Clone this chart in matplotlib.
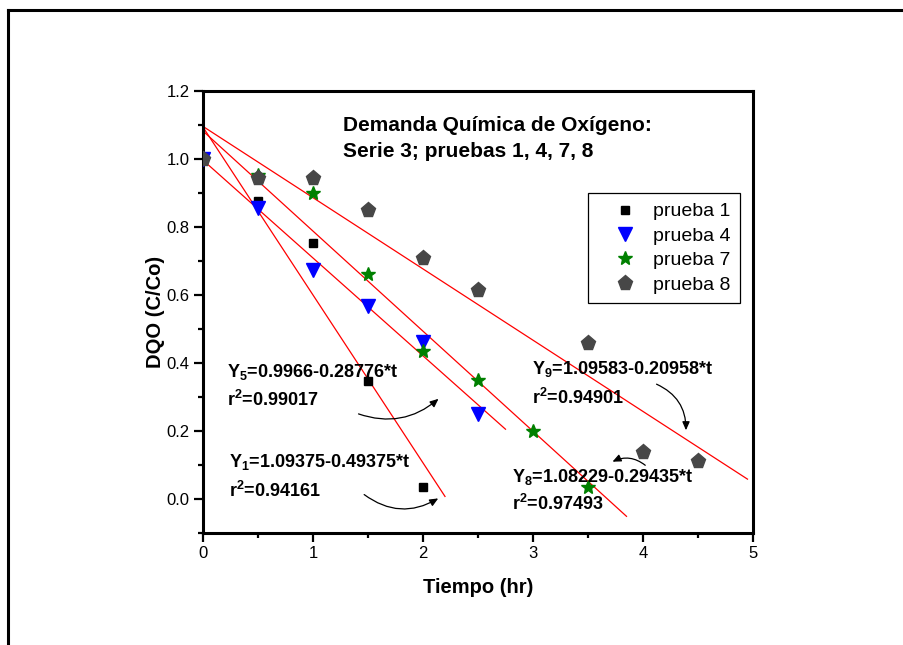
import matplotlib
matplotlib.use("Agg")
import matplotlib.pyplot as plt
from matplotlib.patches import FancyArrowPatch
from matplotlib.lines import Line2D
import numpy as np

plt.rcParams['font.family'] = ['Liberation Sans', 'DejaVu Sans']
plt.rcParams['mathtext.fontset'] = 'custom'
plt.rcParams['mathtext.rm'] = 'Liberation Sans:bold'
plt.rcParams['mathtext.bf'] = 'Liberation Sans:bold'
plt.rcParams['mathtext.it'] = 'Liberation Sans:bold'
plt.rcParams['mathtext.default'] = 'bf'

# ---- data ----
t1 = [0.0, 0.5, 1.0, 1.5, 2.0]
y1 = [1.0, 0.877, 0.753, 0.348, 0.035]
t4 = [0.0, 0.5, 1.0, 1.5, 2.0, 2.5]
y4 = [1.0, 0.855, 0.675, 0.568, 0.462, 0.25]
t7 = [0.0, 0.5, 1.0, 1.5, 2.0, 2.5, 3.0, 3.5]
y7 = [1.0, 0.952, 0.90, 0.662, 0.435, 0.35, 0.20, 0.035]
t8 = [0.0, 0.5, 1.0, 1.5, 2.0, 2.5, 3.5, 4.0, 4.5]
y8 = [1.0, 0.945, 0.945, 0.85, 0.71, 0.615, 0.459, 0.138, 0.112]

# linear fits (intercept, slope, end time)
fit_a = [1.09375, 0.9966, 1.08229, 1.09583]
fit_b = [-0.49375, -0.28776, -0.29435, -0.20958]
fit_end = [2.2, 2.75, 3.85, 4.95]

series_labels = ['prueba 1', 'prueba 4', 'prueba 7', 'prueba 8']
xticks = [0, 1, 2, 3, 4, 5]
yticks = [0.0, 0.2, 0.4, 0.6, 0.8, 1.0, 1.2]

fig = plt.figure(figsize=(9.04, 6.45), dpi=100)
ax = fig.add_axes([203/904, 1-533/645, 550/904, 442/645])

for a, b, te in zip(fit_a, fit_b, fit_end):
    tt = np.array([0.0, te])
    ax.plot(tt, a + b*tt, color='red', lw=0.9, zorder=2)

ax.plot(t1, y1, 's', color='black', ms=6, ls='none', label=series_labels[0], zorder=3)
ax.plot(t4, y4, 'v', color='#0000ff', ms=9.5, ls='none', label=series_labels[1], zorder=3)
ax.plot(t7, y7, '*', color='#008000', ms=10, ls='none', label=series_labels[2], zorder=3)
ax.plot(t8, y8, 'p', color='#474747', ms=11, ls='none', label=series_labels[3], zorder=3)

ax.set_xlim(0, 5)
ax.set_ylim(-0.1, 1.2)
ax.set_xticks(xticks)
ax.set_xticklabels([str(v) for v in xticks])
ax.set_yticks(yticks)
ax.set_yticklabels([f'{v:.1f}' for v in yticks])
ax.set_xticks(np.arange(0.5, 5, 1.0), minor=True)
ax.set_yticks(np.arange(-0.1, 1.2, 0.2), minor=True)

for s in ax.spines.values():
    s.set_linewidth(2.2)
ax.tick_params(axis='both', which='major', direction='out', length=6.5, width=1.6,
               labelsize=12, pad=3, top=False, right=False)
ax.tick_params(axis='both', which='minor', direction='out', length=3.5, width=1.6,
               top=False, right=False)

ax.set_xlabel('Tiempo (hr)', fontsize=14.5, fontweight='bold', labelpad=12)
ax.set_ylabel('DQO (C/Co)', fontsize=14.5, fontweight='bold', labelpad=1)

leg = ax.legend(loc='upper right', bbox_to_anchor=(0.976, 0.769), fontsize=14,
                frameon=True, fancybox=False, edgecolor='black', framealpha=1,
                handletextpad=0.0, labelspacing=0.35, borderpad=0.5, handlelength=2.84,
                borderaxespad=0)
leg.get_frame().set_linewidth(0.9)

ax.text(1.27, 1.082, 'Demanda Química de Oxígeno:', fontsize=15, fontweight='bold',
        ha='left', va='baseline')
ax.text(1.27, 1.006, 'Serie 3; pruebas 1, 4, 7, 8', fontsize=15, fontweight='bold',
        ha='left', va='baseline')

fs = 13
ax.text(0.218, 0.359, r'$Y_5$=0.9966-0.28776*t', fontsize=fs, fontweight='bold', va='baseline')
ax.text(0.218, 0.274, r'r$^2$=0.99017', fontsize=fs, fontweight='bold', va='baseline')
ax.text(0.236, 0.094, r'$Y_1$=1.09375-0.49375*t', fontsize=fs, fontweight='bold', va='baseline')
ax.text(0.236, 0.006, r'r$^2$=0.94161', fontsize=fs, fontweight='bold', va='baseline')
ax.text(2.99, 0.368, r'$Y_9$=1.09583-0.20958*t', fontsize=fs, fontweight='bold', va='baseline')
ax.text(2.99, 0.279, r'r$^2$=0.94901', fontsize=fs, fontweight='bold', va='baseline')
ax.text(2.81, 0.05, r'$Y_8$=1.08229-0.29435*t', fontsize=fs, fontweight='bold', va='baseline')
ax.text(2.81, -0.032, r'r$^2$=0.97493', fontsize=fs, fontweight='bold', va='baseline')

arrows = [((1.39, 0.253), (2.16, 0.30), 0.3),
          ((1.445, 0.018), (2.16, 0.006), 0.35),
          ((4.1, 0.341), (4.39, 0.194), -0.35),
          ((4.04, 0.094), (3.7, 0.106), 0.35)]
for p0, p1, rad in arrows:
    ax.add_patch(FancyArrowPatch(p0, p1, connectionstyle=f'arc3,rad={rad}',
                                 arrowstyle='-|>,head_length=5,head_width=2.2',
                                 color='black', lw=0.9, zorder=4))

# outer frame (left and top)
fig.add_artist(Line2D([8/904, 8/904], [0, 1-10/645], color='black', lw=2.2,
                      transform=fig.transFigure))
fig.add_artist(Line2D([8/904, 1], [1-10/645, 1-10/645], color='black', lw=2.2,
                      transform=fig.transFigure))

fig.savefig('out.png', dpi=100)
